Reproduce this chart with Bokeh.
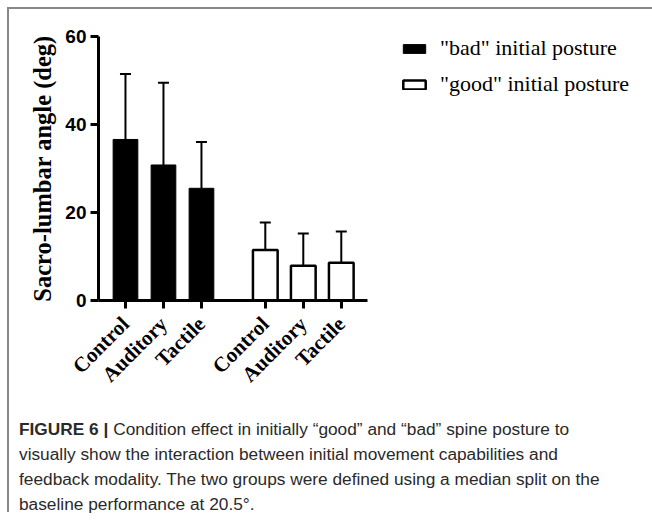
import math
from bokeh.plotting import figure
from bokeh.models import (Range1d, FixedTicker, Whisker, ColumnDataSource, Legend,
                          LegendItem, Div, TeeHead)
from bokeh.layouts import column
from bokeh.embed import file_html
from bokeh.resources import INLINE

# ---- data ----
conditions = ["Control", "Auditory", "Tactile"]
group_names = ['"bad" initial posture', '"good" initial posture']
bad_means = [36.6, 30.8, 25.5]
bad_sd = [14.9, 18.7, 10.5]
good_means = [11.5, 7.9, 8.6]
good_sd = [6.2, 7.3, 7.1]
y_ticks = [0, 20, 40, 60]

GAP = 0.68  # extra space between groups (layout)


def positions(gi):
    return [i + gi * (len(conditions) + GAP) for i in range(len(conditions))]


def make_src(gi, means, sds):
    xs = positions(gi)
    return ColumnDataSource(dict(
        x=xs, top=means,
        lower=means,
        upper=[m + s for m, s in zip(means, sds)],
    ))


bad_src = make_src(0, bad_means, bad_sd)
good_src = make_src(1, good_means, good_sd)

FW, FH = 269, 264
p = figure(frame_width=FW, frame_height=FH, output_backend="svg", toolbar_location=None,
           x_range=Range1d(-0.71, 6.37), y_range=Range1d(0, 60),
           min_border_left=89, min_border_top=27, min_border_bottom=112,
           min_border_right=20)
p.outline_line_color = None
p.grid.visible = False
p.background_fill_color = "white"
p.border_fill_color = "white"

BW = 0.65
r_bad = p.vbar(x="x", top="top", width=BW, source=bad_src, fill_color="black",
               line_color="black", line_width=1)
r_good = p.vbar(x="x", top="top", width=BW, source=good_src, fill_color="white",
                line_color="black", line_width=2.5)

for src in (bad_src, good_src):
    w = Whisker(source=src, base="x", lower="lower", upper="upper",
                line_color="black", line_width=2,
                upper_head=TeeHead(size=11, line_width=2, line_color="black"),
                lower_head=None, level="underlay")
    p.add_layout(w)

# axes
all_x = positions(0) + positions(1)
p.xaxis.ticker = FixedTicker(ticks=all_x)
p.xaxis.major_label_overrides = {x: c for x, c in zip(all_x, conditions * 2)}
p.xaxis.major_label_orientation = math.pi / 4
p.xaxis.major_label_text_font = "Liberation Serif"
p.xaxis.major_label_text_font_style = "bold"
p.xaxis.major_label_text_font_size = "21px"
p.xaxis.major_label_text_color = "black"
p.xaxis.major_label_standoff = 12

p.yaxis.ticker = FixedTicker(ticks=y_ticks)
p.yaxis.major_label_text_font = "Liberation Sans"
p.yaxis.major_label_text_font_style = "bold"
p.yaxis.major_label_text_font_size = "19px"
p.yaxis.major_label_text_color = "black"
p.yaxis.axis_label = "Sacro-lumbar angle (deg)"
p.yaxis.axis_label_text_font = "Liberation Serif"
p.yaxis.axis_label_text_font_style = "bold"
p.yaxis.axis_label_text_font_size = "24.5px"
p.yaxis.axis_label_text_color = "black"
p.yaxis.axis_label_standoff = 6
p.yaxis.major_label_standoff = 4

for ax in (p.xaxis, p.yaxis):
    ax.axis_line_width = 3
    ax.axis_line_color = "black"
    ax.major_tick_line_width = 3
    ax.major_tick_line_color = "black"
    ax.major_tick_out = 8
    ax.major_tick_in = 0
    ax.minor_tick_line_color = None

legend = Legend(items=[LegendItem(label=group_names[0], renderers=[r_bad]),
                       LegendItem(label=group_names[1], renderers=[r_good])],
                location=(33, 203))
legend.border_line_color = None
legend.background_fill_alpha = 0
legend.label_text_font = "Liberation Serif"
legend.label_text_font_size = "22px"
legend.label_text_color = "black"
legend.glyph_width = 28
legend.glyph_height = 11
legend.label_height = 22
legend.spacing = 10
legend.margin = 20
legend.padding = 0
legend.label_standoff = 12
p.add_layout(legend, "right")

caption = Div(
    text=('<b>FIGURE 6 |</b> Condition effect in initially \u201cgood\u201d and \u201cbad\u201d spine posture to<br>'
          'visually show the interaction between initial movement capabilities and<br>'
          'feedback modality. The two groups were defined using a median split on the<br>'
          'baseline performance at 20.5\u00b0.'),
    width=620, height=90,
    styles={"font-family": "Liberation Sans", "font-size": "17.3px", "line-height": "25px",
            "color": "#2a2a2a", "margin-left": "10px", "white-space": "nowrap"})

layout = column(p, caption, margin=(7, 0, 0, 7),
                styles={"border-top": "2px solid #888", "border-left": "2px solid #888"})

open("out.html", "w").write(file_html(layout, INLINE))
